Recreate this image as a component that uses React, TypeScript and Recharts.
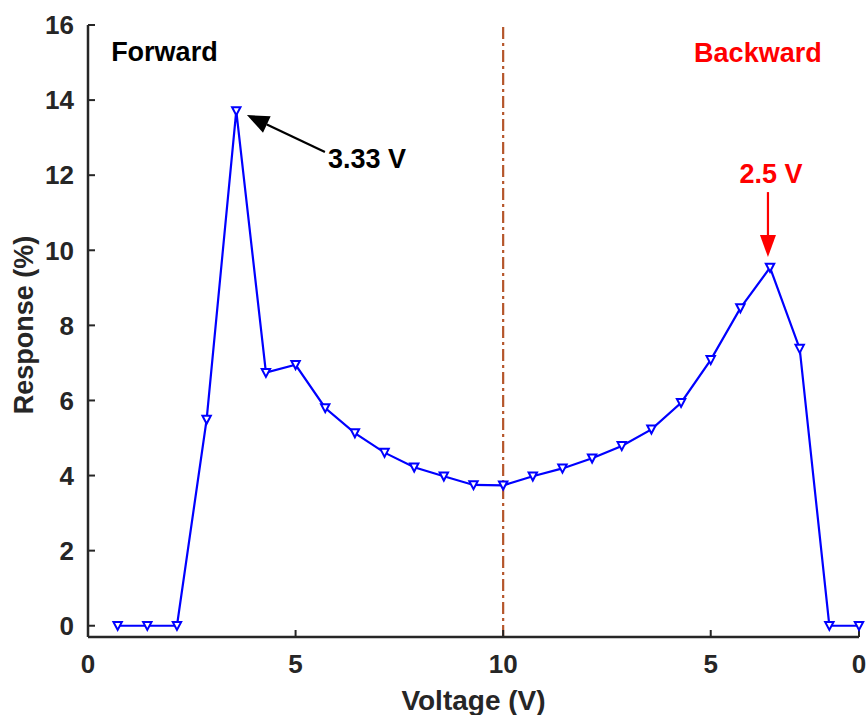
import {
  LineChart, Line, XAxis, YAxis, ReferenceLine, ReferenceDot,
} from 'recharts';

// sweep step index (14 steps forward up to 10 V, then back down)
const steps = [1, 2, 3, 4, 5, 6, 7, 8, 9, 10, 11, 12, 13, 14, 15, 16, 17, 18, 19, 20, 21, 22, 23, 24, 25, 26];
const response = [0, 0, 0, 5.49, 13.71, 6.74, 6.95, 5.8, 5.13, 4.61, 4.22, 3.98, 3.75, 3.74, 3.98, 4.19, 4.46, 4.79, 5.23, 5.94, 7.08, 8.46, 9.54, 7.38, 0, 0];

const xTicks = [0, 7, 14, 21, 26];
const xTickLabels = ['0', '5', '10', '5', '0'];
const yTicks = [0, 2, 4, 6, 8, 10, 12, 14, 16];

const data = steps.map((s, i) => ({ step: s, value: response[i] }));

const FONT = '"Liberation Sans", Arial, sans-serif';
const AXIS = '#262626';
const BLUE = '#0000ff';

// downward triangle marker
function TriDot(props: any) {
  const { cx, cy } = props;
  if (cx == null || cy == null) return null;
  return (
    <polygon
      points={`${cx - 4.2},${cy - 3.8} ${cx + 4.2},${cy - 3.8} ${cx},${cy + 4.2}`}
      fill="#fff"
      stroke={BLUE}
      strokeWidth={2}
    />
  );
}

function arrowShape(color: string, headLen: number, headHalf: number) {
  return (p: any) => {
    const { x1, y1, x2, y2 } = p;
    const dx = x2 - x1;
    const dy = y2 - y1;
    const len = Math.sqrt(dx * dx + dy * dy) || 1;
    const ux = dx / len;
    const uy = dy / len;
    const bx = x2 - ux * headLen;
    const by = y2 - uy * headLen;
    const pts = `${x2},${y2} ${bx - uy * headHalf},${by + ux * headHalf} ${bx + uy * headHalf},${by - ux * headHalf}`;
    return (
      <g>
        <line x1={x1} y1={y1} x2={bx} y2={by} stroke={color} strokeWidth={2.2} />
        <polygon points={pts} fill={color} />
      </g>
    );
  };
}

function textShape(text: string, color: string, anchor: 'start' | 'middle') {
  return (p: any) => (
    <text
      x={p.cx}
      y={p.cy}
      textAnchor={anchor}
      fill={color}
      fontFamily={FONT}
      fontWeight="bold"
      fontSize={27}
    >
      {text}
    </text>
  );
}

function YLabel(props: any) {
  const vb = props.viewBox || { x: 0, y: 0, width: 88, height: 0 };
  const cx = vb.x + 24;
  const cy = vb.y + vb.height / 2 - 6;
  return (
    <text
      transform={`translate(${cx},${cy}) rotate(-90)`}
      textAnchor="middle"
      dominantBaseline="central"
      fill={AXIS}
      fontFamily={FONT}
      fontWeight="bold"
      fontSize={27}
    >
      Response (%)
    </text>
  );
}

const tickStyle = { fill: AXIS, fontFamily: FONT, fontWeight: 'bold', fontSize: 26 } as any;

export default function App() {
  return (
    <div style={{ position: 'absolute', left: 0, top: 0, background: '#fff' }}>
      <LineChart
        width={866}
        height={715}
        data={data}
        margin={{ top: 25, right: 7, bottom: 0, left: 0 }}
      >
        <XAxis
          xAxisId="x"
          dataKey="step"
          type="number"
          domain={[0, 26]}
          ticks={xTicks}
          tickFormatter={(v: number) => xTickLabels[xTicks.indexOf(v)] ?? ''}
          interval={0}
          height={78}
          tickSize={-7}
          tickMargin={25}
          tick={tickStyle}
          axisLine={{ stroke: AXIS, strokeWidth: 2.5 }}
          tickLine={{ stroke: AXIS, strokeWidth: 2 }}
          label={{
            value: 'Voltage (V)',
            position: 'insideBottom',
            offset: 5,
            fill: AXIS,
            fontFamily: FONT,
            fontWeight: 'bold',
            fontSize: 28,
          }}
        />
        <XAxis
          xAxisId="top"
          orientation="top"
          type="number"
          domain={[0, 26]}
          ticks={xTicks}
          interval={0}
          height={0}
          tickSize={-7}
          tick={false}
          axisLine={{ stroke: AXIS, strokeWidth: 2.5 }}
          tickLine={{ stroke: AXIS, strokeWidth: 2 }}
        />
        <YAxis
          yAxisId="y"
          type="number"
          domain={[-0.3, 16]}
          ticks={yTicks}
          interval={0}
          width={88}
          tickSize={-7}
          tickMargin={21}
          tick={tickStyle}
          axisLine={{ stroke: AXIS, strokeWidth: 2.5 }}
          tickLine={{ stroke: AXIS, strokeWidth: 2 }}
          label={<YLabel />}
        />
        <YAxis
          yAxisId="yr"
          orientation="right"
          type="number"
          domain={[-0.3, 16]}
          ticks={yTicks}
          interval={0}
          width={0}
          tickSize={-7}
          tick={false}
          axisLine={{ stroke: AXIS, strokeWidth: 2.5 }}
          tickLine={{ stroke: AXIS, strokeWidth: 2 }}
        />

        {/* turning point of the sweep at 10 V */}
        <ReferenceLine
          xAxisId="x"
          yAxisId="y"
          x={14}
          stroke="#b5562b"
          strokeWidth={2.2}
          strokeDasharray="12 4 3 4"
        />

        <Line
          xAxisId="x"
          yAxisId="y"
          type="linear"
          dataKey="value"
          stroke={BLUE}
          strokeWidth={2.2}
          dot={<TriDot />}
          activeDot={false}
          isAnimationActive={false}
        />

        <ReferenceDot xAxisId="x" yAxisId="y" x={0.78} y={15.04} r={0} shape={textShape('Forward', '#000', 'start')} />
        <ReferenceDot xAxisId="x" yAxisId="y" x={20.44} y={15.01} r={0} shape={textShape('Backward', '#ff0000', 'start')} />
        <ReferenceDot xAxisId="x" yAxisId="y" x={8.09} y={12.19} r={0} shape={textShape('3.33 V', '#000', 'start')} />
        <ReferenceDot xAxisId="x" yAxisId="y" x={23.03} y={11.79} r={0} shape={textShape('2.5 V', '#ff0000', 'middle')} />

        <ReferenceLine
          xAxisId="x"
          yAxisId="y"
          segment={[{ x: 7.99, y: 12.62 }, { x: 5.36, y: 13.6 }]}
          shape={arrowShape('#000', 22, 9)}
        />
        <ReferenceLine
          xAxisId="x"
          yAxisId="y"
          segment={[{ x: 22.93, y: 11.55 }, { x: 22.93, y: 9.82 }]}
          shape={arrowShape('#ff0000', 22, 8)}
        />
      </LineChart>
    </div>
  );
}
